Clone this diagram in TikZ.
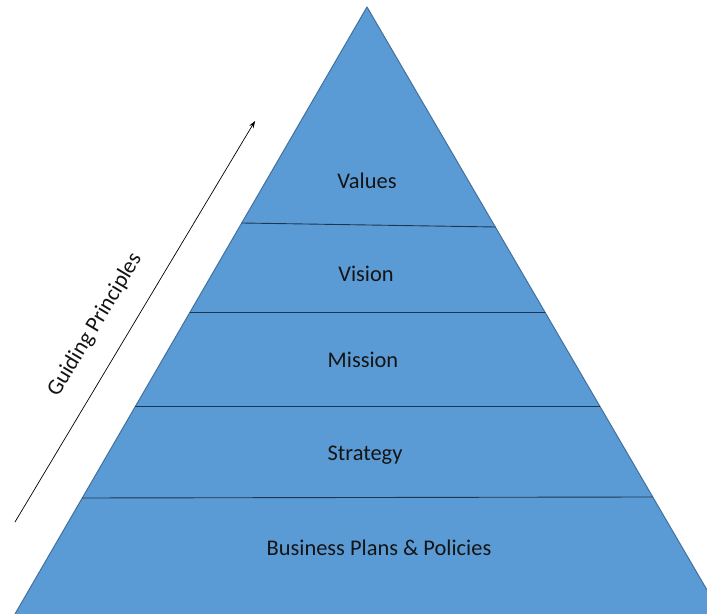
\documentclass[tikz,border=0pt]{standalone}
\usepackage{fontspec}
\setmainfont{Carlito}
\usetikzlibrary{calc,arrows.meta}
\definecolor{pyrblue}{HTML}{5B9BD5}
\definecolor{pyredge}{HTML}{41719C}
\definecolor{tierline}{HTML}{1F3550}
\begin{document}
\begin{tikzpicture}[x=1bp, y=-1bp, >={Stealth[length=7bp,width=5bp]}, line join=round, line cap=round,
  tierlabel/.style={font=\fontsize{22.5}{27}\selectfont, text=black!92, inner sep=0pt}]
  \useasboundingbox (0,0) rectangle (707,614);
  \clip (0,0) rectangle (707,614);
  \coordinate (apex) at (367,7);
  \coordinate (baseL) at (15,614);
  \coordinate (baseR) at (721,614);
  \fill[pyrblue] (apex)--(baseR)--(baseL)--cycle;
  \draw[pyredge, line width=1pt] (baseL)--(apex)--(baseR);
  % tier borders
  \foreach \yl/\yr [count=\i] in {223/227, 312/312, 406/406, 498/497}{
    \coordinate (tl\i) at ($(apex)!{(\yl-7)/607}!(baseL)$);
    \coordinate (tr\i) at ($(apex)!{(\yr-7)/607}!(baseR)$);
    \draw[tierline, line width=0.9pt] (tl\i)--(tr\i);
  }
  \node[tierlabel] (values) at (367,181) {Values};
  \node[tierlabel] (vision) at (366,274) {Vision};
  \node[tierlabel] (mission) at (363,360) {Mission};
  \node[tierlabel] (strategy) at (365,455) {Strategy};
  \node[tierlabel] (plans) at (379,548) {Business Plans \& Policies};
  % guiding arrow
  \coordinate (gpstart) at (15,522);
  \coordinate (gpend) at (255,121);
  \draw[->, line width=0.7pt] (gpstart)--(gpend);
  \node[tierlabel, rotate=59] (guiding) at (95,325) {Guiding Principles};
\end{tikzpicture}
\end{document}
